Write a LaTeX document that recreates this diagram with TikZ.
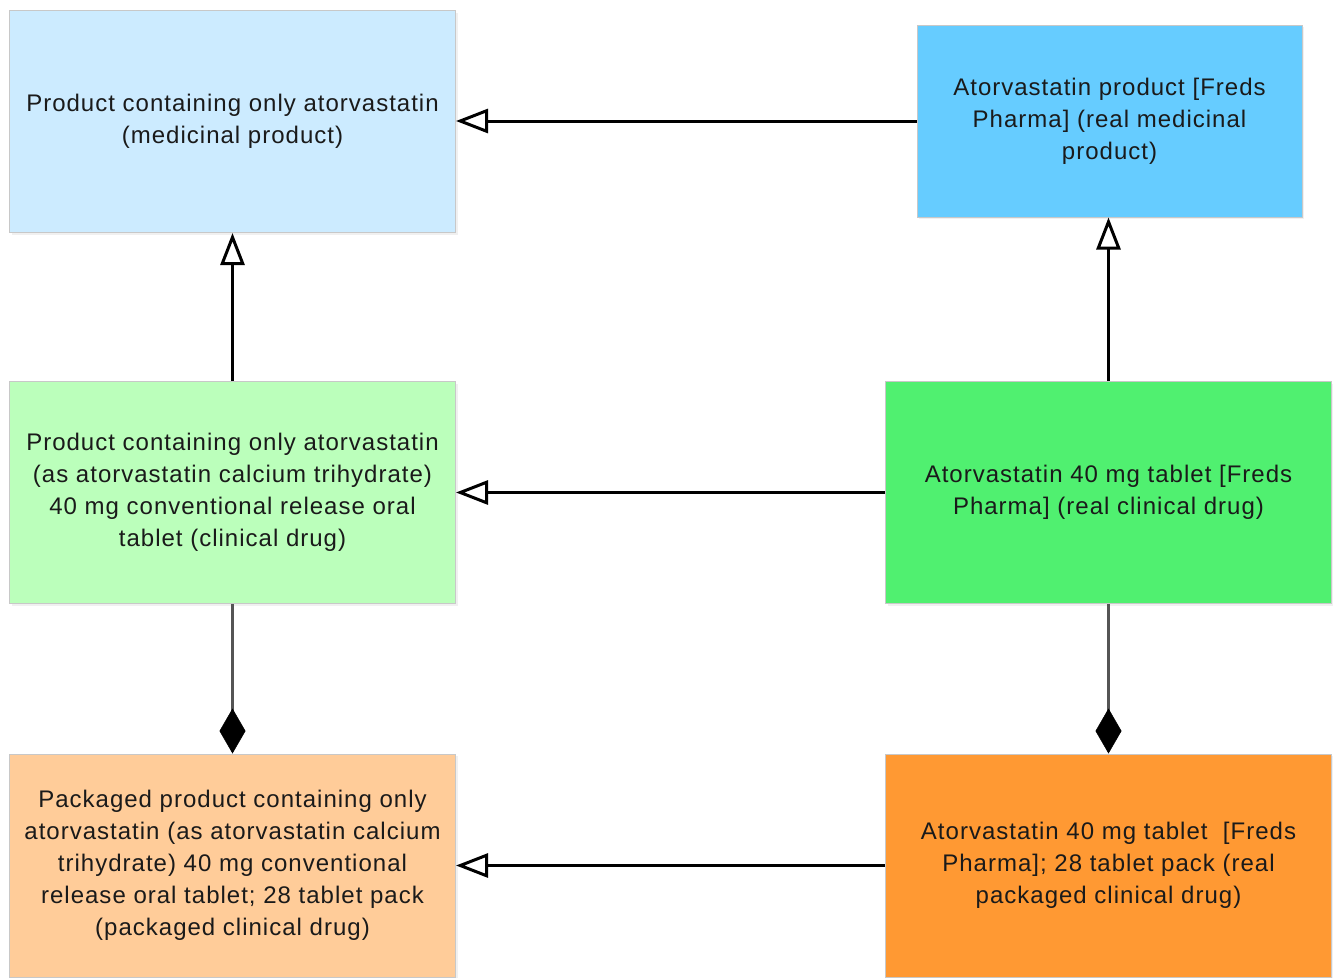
\documentclass[tikz,border=0pt]{standalone}
\usepackage{fontspec}
\setmainfont[LetterSpace=4.2]{Liberation Sans}
\usetikzlibrary{arrows.meta,shadows}

\definecolor{mpfill}{HTML}{CCEBFF}
\definecolor{rmpfill}{HTML}{66CCFF}
\definecolor{cdfill}{HTML}{BBFFBB}
\definecolor{rcdfill}{HTML}{50F070}
\definecolor{pcdfill}{HTML}{FFCC99}
\definecolor{rpcdfill}{HTML}{FF9933}
\definecolor{boxline}{HTML}{C8C8C8}
\definecolor{linkgray}{HTML}{555555}
\definecolor{ink}{HTML}{1A1A1A}

\tikzset{
  concept/.style={draw=boxline, line width=1pt, rectangle, align=center,
    inner sep=0pt, text=ink, font=\fontsize{24}{32}\selectfont,
    drop shadow={shadow xshift=2pt, shadow yshift=-2pt, opacity=0.12}},
  isa/.style={line width=3pt, -{Triangle[open, length=32pt, width=24pt, line width=3pt]}},
  partof/.style={draw=linkgray, line width=2.2pt, -{Diamond[length=45pt, width=26pt, color=black, fill=black, line width=0.5pt]}}
}

\begin{document}
\begin{tikzpicture}[x=1pt, y=-1pt]
\useasboundingbox (0,0) rectangle (1333,977);

% left column: generic concepts
\node[concept, fill=mpfill, minimum width=446pt, minimum height=222pt] (mp) at (232.5,121.5)
  {Product containing only atorvastatin\\(medicinal product)};
\node[concept, fill=cdfill, minimum width=446pt, minimum height=222pt] (cd) at (232.5,492.5)
  {Product containing only atorvastatin\\(as atorvastatin calcium trihydrate)\\40 mg conventional release oral\\tablet (clinical drug)};
\node[concept, fill=pcdfill, minimum width=446pt, minimum height=223pt] (pcd) at (232.5,865.5)
  {Packaged product containing only\\atorvastatin (as atorvastatin calcium\\trihydrate) 40 mg conventional\\release oral tablet; 28 tablet pack\\(packaged clinical drug)};

% right column: real products
\node[concept, fill=rmpfill, minimum width=385pt, minimum height=192pt] (rmp) at (1109.5,121)
  {Atorvastatin product [Freds\\Pharma] (real medicinal\\product)};
\node[concept, fill=rcdfill, minimum width=446pt, minimum height=222pt] (rcd) at (1108.5,492.5)
  {Atorvastatin 40 mg tablet [Freds\\Pharma] (real clinical drug)};
\node[concept, fill=rpcdfill, minimum width=446pt, minimum height=223pt] (rpcd) at (1108.5,865.5)
  {Atorvastatin 40 mg tablet\ \ [Freds\\Pharma]; 28 tablet pack (real\\packaged clinical drug)};

% is-a links
\draw[isa] (rmp.west) -- (mp.east |- rmp.west);
\draw[isa] (rcd.west) -- (cd.east);
\draw[isa] (rpcd.west) -- (pcd.east);
\draw[isa] (cd.north) -- (mp.south);
\draw[isa] (rcd.north) -- (rcd.north |- rmp.south);

% composition links
\draw[partof] (cd.south) -- (pcd.north);
\draw[partof] (rcd.south) -- (rpcd.north);
\end{tikzpicture}
\end{document}
